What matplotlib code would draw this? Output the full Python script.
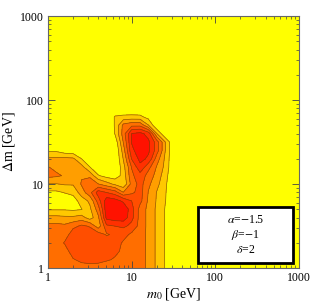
import numpy as np
import matplotlib
matplotlib.use("Agg")
import matplotlib.pyplot as plt
from matplotlib.ticker import LogLocator, FixedLocator, NullFormatter

plt.rcParams['font.family'] = ['Liberation Serif', 'DejaVu Serif']
plt.rcParams['mathtext.fontset'] = 'stix'

# grid sample positions (log10 of GeV)
logm0 = [0.0, 0.1, 0.2, 0.3, 0.4, 0.5, 0.6, 0.7, 0.8, 0.9, 1.0, 1.1, 1.2, 1.3, 1.4, 1.5, 1.6, 1.7, 3.0]
logdm = [0.0, 0.1, 0.2, 0.3, 0.4, 0.5, 0.6, 0.7, 0.8, 0.9, 1.0, 1.1, 1.2, 1.3, 1.4, 1.5, 1.6, 1.7, 1.8, 1.9, 2.0, 3.0]

# contour-level values on the grid (rows: dm, cols: m0)
r00 = [3.5, 3.5, 3.5, 3.5, 3.5, 3.5, 3.5, 3.5, 3.5, 3.5, 3.5, 3.5, 2.7, 1.8, 0.95, 0.3, 0, 0, 0]
r01 = [3.5, 3.5, 3.5, 3.9, 4.3, 4.5, 4.4, 4.1, 3.9, 3.6, 3.5, 3.5, 2.7, 1.8, 0.95, 0.3, 0, 0, 0]
r02 = [3.5, 3.5, 3.5, 4.6, 4.6, 4.6, 4.6, 4.4, 4.2, 3.8, 3.5, 3.5, 2.7, 1.8, 0.95, 0.3, 0, 0, 0]
r03 = [3.5, 3.5, 4.1, 4.7, 4.7, 4.7, 4.7, 4.5, 4.3, 3.9, 3.6, 3.5, 2.7, 1.8, 0.95, 0.3, 0, 0, 0]
r04 = [3.5, 3.5, 3.5, 4.6, 4.6, 4.6, 4.5, 3.9, 4.2, 4.3, 3.8, 3.5, 2.7, 1.8, 0.95, 0.3, 0, 0, 0]
r05 = [3.3, 3.3, 3.2, 3.7, 4.2, 3.9, 2.4, 4.8, 5.0, 5.2, 4.7, 3.6, 2.7, 1.8, 0.95, 0.3, 0, 0, 0]
r06 = [2.3, 2.3, 2.2, 2.2, 2.4, 1.5, 2.8, 6.3, 6.6, 6.6, 5.3, 3.6, 2.7, 1.8, 0.95, 0.3, 0, 0, 0]
r07 = [0.9, 0.9, 0.9, 0.8, 0.95, 1.8, 3.5, 6.7, 7.0, 6.8, 5.4, 3.6, 2.7, 1.8, 0.95, 0.3, 0, 0, 0]
r08 = [0.2, 0.2, 0.3, 0.5, 1.5, 2.2, 4.5, 6.6, 6.4, 5.8, 5.0, 4.3, 2.8, 1.9, 1.05, 0.2, 0, 0, 0]
r09 = [0.8, 0.8, 1.05, 1.3, 2.5, 3.7, 5.5, 5.0, 4.5, 3.05, 3.8, 4.4, 2.95, 1.95, 1.1, 0.1, 0, 0, 0]
r10 = [1.95, 1.95, 2.1, 2.1, 3.1, 3.9, 3.05, 2.4, 1.8, 1.2, 3.4, 4.4, 3.2, 2.3, 1.2, 0, 0, 0, 0]
r11 = [3.3, 3.15, 2.9, 2.6, 2.9, 2.7, 1.1, 0.6, 0.4, 1.4, 3.8, 4.6, 3.6, 2.6, 1.4, 0, 0, 0, 0]
r12 = [3.05, 2.75, 2.6, 2.5, 2.4, 1.05, 0, 0, 0, 1.6, 4.05, 5.7, 4.3, 2.9, 1.7, 0, 0, 0, 0]
r13 = [2.25, 2.2, 2.3, 2.2, 1.02, 0, 0, 0, 0, 2.05, 5.05, 6.3, 5.8, 3.5, 1.8, 0, 0, 0, 0]
r14 = [0.85, 0.8, 0.3, 0.2, 0, 0, 0, 0, 0, 2.5, 5.8, 6.5, 6.2, 4.5, 2.05, 0, 0, 0, 0]
r15 = [0, 0, 0, 0, 0, 0, 0, 0, 0.3, 3.05, 6.05, 6.6, 6.2, 4.5, 2.05, 0, 0, 0, 0]
r16 = [0, 0, 0, 0, 0, 0, 0, 0, 1.05, 3.5, 6.05, 6.3, 5.6, 2.05, 0, 0, 0, 0, 0]
r17 = [0, 0, 0, 0, 0, 0, 0, 0, 1.1, 3.3, 3.75, 3.75, 2.05, 0, 0, 0, 0, 0, 0]
r18 = [0, 0, 0, 0, 0, 0, 0, 0, 1.1, 1.25, 1.3, 1.25, 0.6, 0, 0, 0, 0, 0, 0]
r19 = [0] * 19
r20 = [0] * 19
r21 = [0] * 19

levels = [-1, 1, 2, 3, 4, 5, 6, 10]
band_colors = ['#FFFF00', '#FFC800', '#FF9E00', '#FF6E00', '#FF4E00', '#FF3000', '#FF1200']

params = [r'$\alpha$=$-$1.5', r'$\beta$=$-$1', r'$\delta$=2']

Z = np.array([r00, r01, r02, r03, r04, r05, r06, r07, r08, r09, r10,
              r11, r12, r13, r14, r15, r16, r17, r18, r19, r20, r21])
xg = 10 ** np.array(logm0)
yg = 10 ** np.array(logdm)

fig = plt.figure(figsize=(3.12, 3.04), dpi=100)
ax = fig.add_axes([0.154, 0.118, 0.804, 0.829])
ax.contourf(xg, yg, Z, levels=levels, colors=band_colors)
ax.contour(xg, yg, Z, levels=levels[1:-1], colors=[(0.42, 0.28, 0.0)], linewidths=0.5, alpha=0.75)
ax.set_xscale('log')
ax.set_yscale('log')
ax.set_xlim(1, 1000)
ax.set_ylim(1, 1000)

for axis in (ax.xaxis, ax.yaxis):
    axis.set_major_locator(FixedLocator([1, 10, 100, 1000]))
    axis.set_minor_locator(LogLocator(base=10, subs=np.arange(2, 10)))
    axis.set_minor_formatter(NullFormatter())
ax.set_xticklabels(['1', '10', '100', '1000'])
ax.set_yticklabels(['1', '10', '100', '1000'])
ax.tick_params(which='both', direction='in', top=True, right=True, labelsize=8.5, pad=3, color='#444444')
ax.tick_params(which='major', length=5, width=0.6)
ax.tick_params(which='minor', length=2.5, width=0.5)
for s in ax.spines.values():
    s.set_color('#666666')
    s.set_linewidth(0.8)

ax.set_xlabel(r'$m_0$ [GeV]', fontsize=10, labelpad=1)
ax.set_ylabel(r'$\Delta$m [GeV]', fontsize=10, labelpad=2)

# parameter box
box = plt.Rectangle((0.598, 0.02), 0.378, 0.222, transform=ax.transAxes,
                    facecolor='white', edgecolor='black', linewidth=2, zorder=5)
ax.add_patch(box)
for t, yy in zip(params, [0.19, 0.131, 0.072]):
    ax.text(0.787, yy, t, transform=ax.transAxes, ha='center', va='center', fontsize=8.5, zorder=6)

fig.savefig('out.png', dpi=100)
